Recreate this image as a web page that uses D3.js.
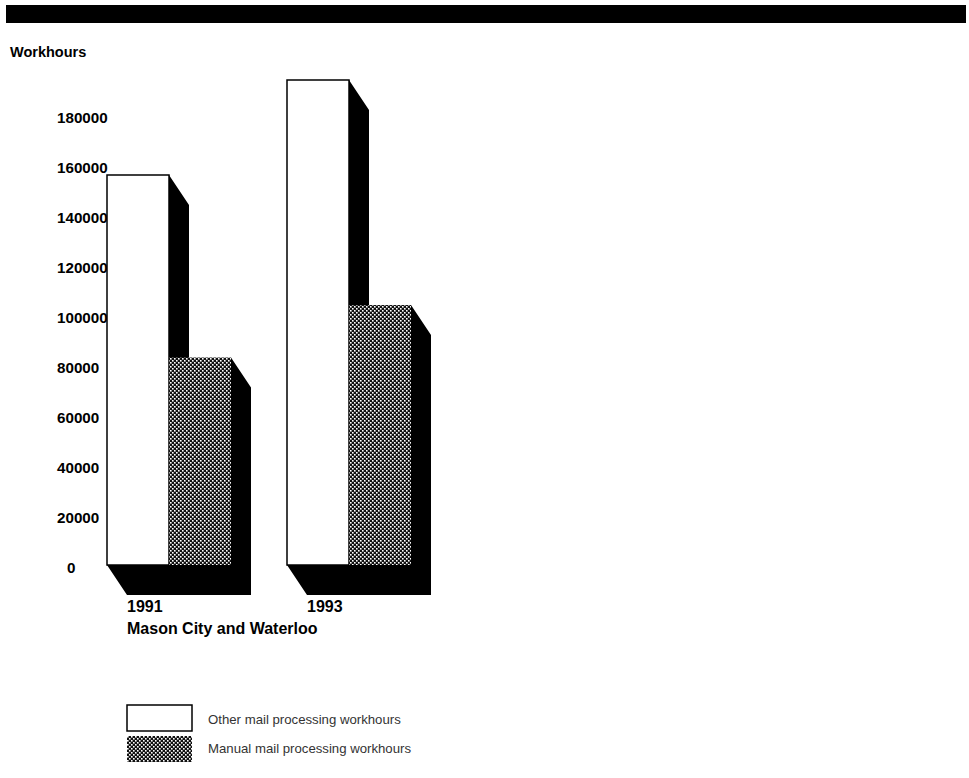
<!DOCTYPE html>
<html>
<head>
<meta charset="utf-8">
<script src="https://cdn.jsdelivr.net/npm/d3@7"></script>
<style>
  html, body { margin: 0; padding: 0; background: #fff; }
  svg { display: block; }
  text { font-family: "Liberation Sans", Arial, Helvetica, sans-serif; }
</style>
</head>
<body>
<svg id="chart" width="969" height="778"></svg>
<script>
// Workhours by year, Mason City and Waterloo
const years = ["1991", "1993"];
const series = ["Other mail processing workhours", "Manual mail processing workhours"];
const otherHours = [156000, 194000];
const manualHours = [83000, 104000];
const yTicks = [0, 20000, 40000, 60000, 80000, 100000, 120000, 140000, 160000, 180000];

const rows = years.map((yr, i) => ({ year: yr, values: [otherHours[i], manualHours[i]] }));

const svg = d3.select("#chart");

// Halftone fill for the manual series
const defs = svg.append("defs");
const pat = defs.append("pattern")
  .attr("id", "dots").attr("patternUnits", "userSpaceOnUse")
  .attr("width", 4).attr("height", 4);
pat.append("rect").attr("width", 4).attr("height", 4).attr("fill", "#111");
pat.append("rect").attr("x", 0).attr("y", 0).attr("width", 1.6).attr("height", 1.6).attr("fill", "#fff");
pat.append("rect").attr("x", 2).attr("y", 2).attr("width", 1.6).attr("height", 1.6).attr("fill", "#fff");

// Header rule
svg.append("rect").attr("x", 6).attr("y", 5).attr("width", 960).attr("height", 18).attr("fill", "#000");

// Scales
const y = d3.scaleLinear().domain([0, 180000]).range([565, 115]);
const x = d3.scaleBand().domain(years).range([107, 411]).paddingInner(56 / 180).paddingOuter(0);
const xs = d3.scaleBand().domain(series).range([0, x.bandwidth()]);
const fills = ["#fff", "url(#dots)"];
const depthX = 20, depthY = 30;

// Axis title
svg.append("text").attr("x", 10).attr("y", 57)
  .attr("font-size", 14.5).attr("font-weight", "bold").text("Workhours");

// Value labels (left-aligned column, zero indented)
svg.append("g").selectAll("text").data(yTicks).join("text")
  .attr("x", d => d === 0 ? 67 : 57)
  .attr("y", d => y(d) + 2)
  .attr("dominant-baseline", "central")
  .attr("font-size", 15.2).attr("font-weight", "bold")
  .text(d => d3.format("d")(d));

// Bars
const bars = rows.flatMap(r => r.values.map((v, j) => ({
  year: r.year, key: series[j], value: v, j,
  x0: x(r.year) + xs(series[j]), x1: x(r.year) + xs(series[j]) + xs.bandwidth(),
  yT: y(v), yB: y(0)
})));

// Extruded shadows first
svg.append("g").selectAll("polygon").data(bars).join("polygon")
  .attr("fill", "#000")
  .attr("points", d => [
    [d.x1, d.yT], [d.x1 + depthX, d.yT + depthY], [d.x1 + depthX, d.yB + depthY],
    [d.x0 + depthX, d.yB + depthY], [d.x0, d.yB], [d.x1, d.yB]
  ].map(p => p.join(",")).join(" "));

// Front faces
svg.append("g").selectAll("rect").data(bars).join("rect")
  .attr("x", d => d.x0)
  .attr("y", d => d.yT)
  .attr("width", d => d.x1 - d.x0)
  .attr("height", d => d.yB - d.yT)
  .attr("fill", d => fills[d.j])
  .attr("stroke", d => d.j === 0 ? "#000" : "none")
  .attr("stroke-width", 1.5);

// Year labels
svg.append("g").selectAll("text").data(years).join("text")
  .attr("x", d => x(d) + 20).attr("y", 612)
  .attr("font-size", 16).attr("font-weight", "bold").text(d => d);

svg.append("text").attr("x", 127).attr("y", 634)
  .attr("font-size", 16).attr("font-weight", "bold").text("Mason City and Waterloo");

// Legend
const legend = svg.append("g").attr("transform", "translate(127,705)");
const li = legend.selectAll("g").data(series).join("g")
  .attr("transform", (d, i) => `translate(0,${i * 31})`);
li.append("rect").attr("width", 65).attr("height", 26)
  .attr("fill", (d, i) => fills[i])
  .attr("stroke", (d, i) => i === 0 ? "#000" : "none").attr("stroke-width", 1.5);
li.append("text").attr("x", 81).attr("y", (d, i) => i === 0 ? 14 : 12).attr("dominant-baseline", "central")
  .attr("font-size", 13.2).attr("fill", "#333").text(d => d);
</script>
</body>
</html>
